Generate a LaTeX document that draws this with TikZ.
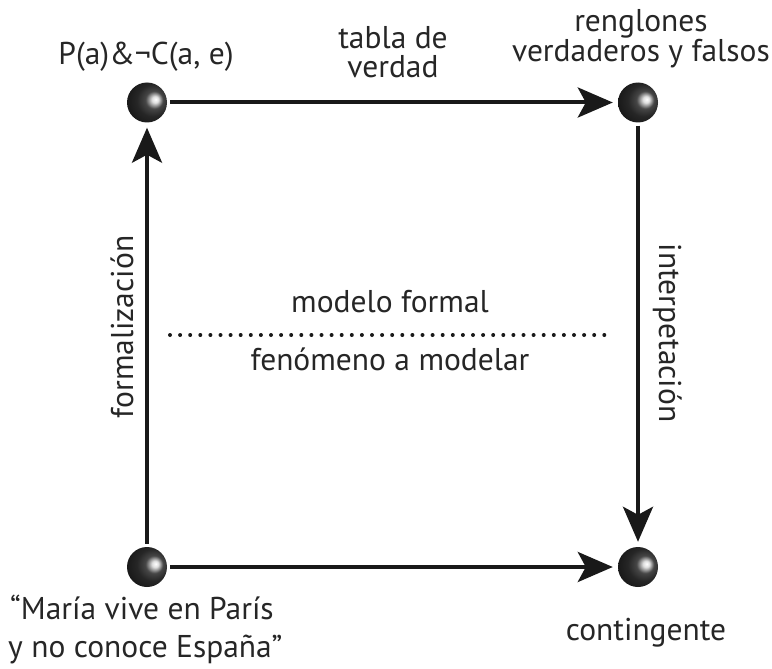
\documentclass[tikz,border=0pt]{standalone}
\usepackage{fontspec}
\setmainfont{PT Sans}
\usetikzlibrary{arrows.meta}
\pgfdeclareradialshading{sphereshade}{\pgfpoint{11bp}{4bp}}{%
  color(0bp)=(white);
  color(4bp)=(white!75!gray);
  color(11bp)=(gray!55!black);
  color(20bp)=(black!85);
  color(34bp)=(black!92);
  color(60bp)=(black)}
\tikzset{
  ball/.style={circle, minimum size=40pt, inner sep=0pt, shading=sphereshade},
  conn/.style={line width=4pt, draw=black!90, -{Stealth[length=35pt,width=30pt,inset=8pt]},
    shorten <=3pt, shorten >=5pt},
  lab/.style={font=\fontsize{31.5}{31.5}\selectfont, text=black!85, inner sep=0pt, align=center},
}
\begin{document}
\begin{tikzpicture}[x=1pt,y=-1pt]
\useasboundingbox (0,0) rectangle (772,669);
\node[ball] (tl) at (147,102.5) {};
\node[ball] (tr) at (638,102.5) {};
\node[ball] (bl) at (147,567) {};
\node[ball] (br) at (638,567) {};
\draw[conn] (tl) -- (tr);
\draw[conn] (bl) -- (tl);
\draw[conn] (tr) -- (br);
\draw[conn] (bl) -- (br);
\coordinate (d1) at (170,335);
\coordinate (d2) at (605,335);
\draw[line width=4pt, line cap=round, dash pattern=on 0pt off 10.1pt, draw=black!90] (d1) -- (d2);
\node[lab, anchor=base] (p) at (146,65) {P(a)\&¬C(a, e)};
\node[lab, anchor=base] (tabla) at (393,49) {tabla de};
\node[lab, anchor=base] (verdad) at (393,78) {verdad};
\node[lab, anchor=base] (reng) at (641,32) {renglones};
\node[lab, anchor=base] (vyf) at (641,62) {verdaderos y falsos};
\node[lab, anchor=base west] (maria) at (10,619) {“María vive en París};
\node[lab, anchor=base west] (espana) at (8,657) {y no conoce España”};
\node[lab, anchor=base] (cont) at (646,640) {contingente};
\node[lab, anchor=base] (mf) at (390,312) {modelo formal};
\node[lab, anchor=base] (fm) at (390,370) {fenómeno a modelar};
\node[lab, anchor=base, rotate=90] (form) at (133,327) {formalización};
\node[lab, anchor=base, rotate=-90] (interp) at (659,333) {interpetación};
\end{tikzpicture}
\end{document}
